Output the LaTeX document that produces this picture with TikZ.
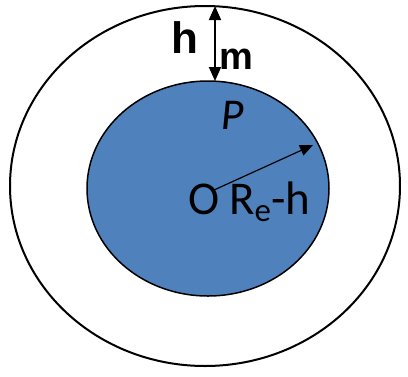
\documentclass[tikz,border=0pt]{standalone}
\usepackage{fontspec}
\setmainfont{Carlito}
\newfontfamily\arialb{Liberation Sans}
\usetikzlibrary{shapes.geometric,arrows.meta}
\definecolor{earthblue}{RGB}{79,129,189}
\tikzset{
  ring/.style={ellipse, draw=black, inner sep=0pt, outer sep=0pt},
  lbl/.style={inner sep=0pt, outer sep=0pt, anchor=base west},
  bigtxt/.style={lbl, font=\fontsize{47}{50}\selectfont},
  boldh/.style={lbl, font=\arialb\bfseries\fontsize{44}{46}\selectfont},
  boldm/.style={lbl, font=\arialb\bfseries\fontsize{38}{40}\selectfont},
  harrow/.style={line width=1.8pt, {Triangle[length=14pt,width=12pt]}-{Triangle[length=14pt,width=12pt]}},
  rarrow/.style={line width=1.2pt, -{Triangle[length=13pt,width=11pt]}}
}
\begin{document}
\begin{tikzpicture}[x=1pt,y=-1pt]
\useasboundingbox (0,0) rectangle (408,376);
\fill[white] (0,0) rectangle (408,376);
\node[ring, line width=2pt, minimum width=390pt, minimum height=360pt] (outer) at (205,186) {};
\node[ring, line width=1.5pt, fill=earthblue, minimum width=242pt, minimum height=215pt] (inner) at (208,188.5) {};
\coordinate (atop) at (215,6);
\coordinate (abot) at (215,81);
\draw[harrow] (atop) -- (abot);
\node[boldh] (h) at (171,53) {h};
\node[boldm] (m) at (219,69) {m};
\node[bigtxt, font=\fontsize{44}{46}\selectfont, xslant=0.1] (P) at (220,129) {P};
\node[bigtxt] (O) at (188,214) {O};
\node[bigtxt] (R) at (229,214) {R\textsubscript{e}-h};
\coordinate (rstart) at (214,190);
\coordinate (rend) at (313,145);
\draw[rarrow] (rstart) -- (rend);
\end{tikzpicture}
\end{document}
